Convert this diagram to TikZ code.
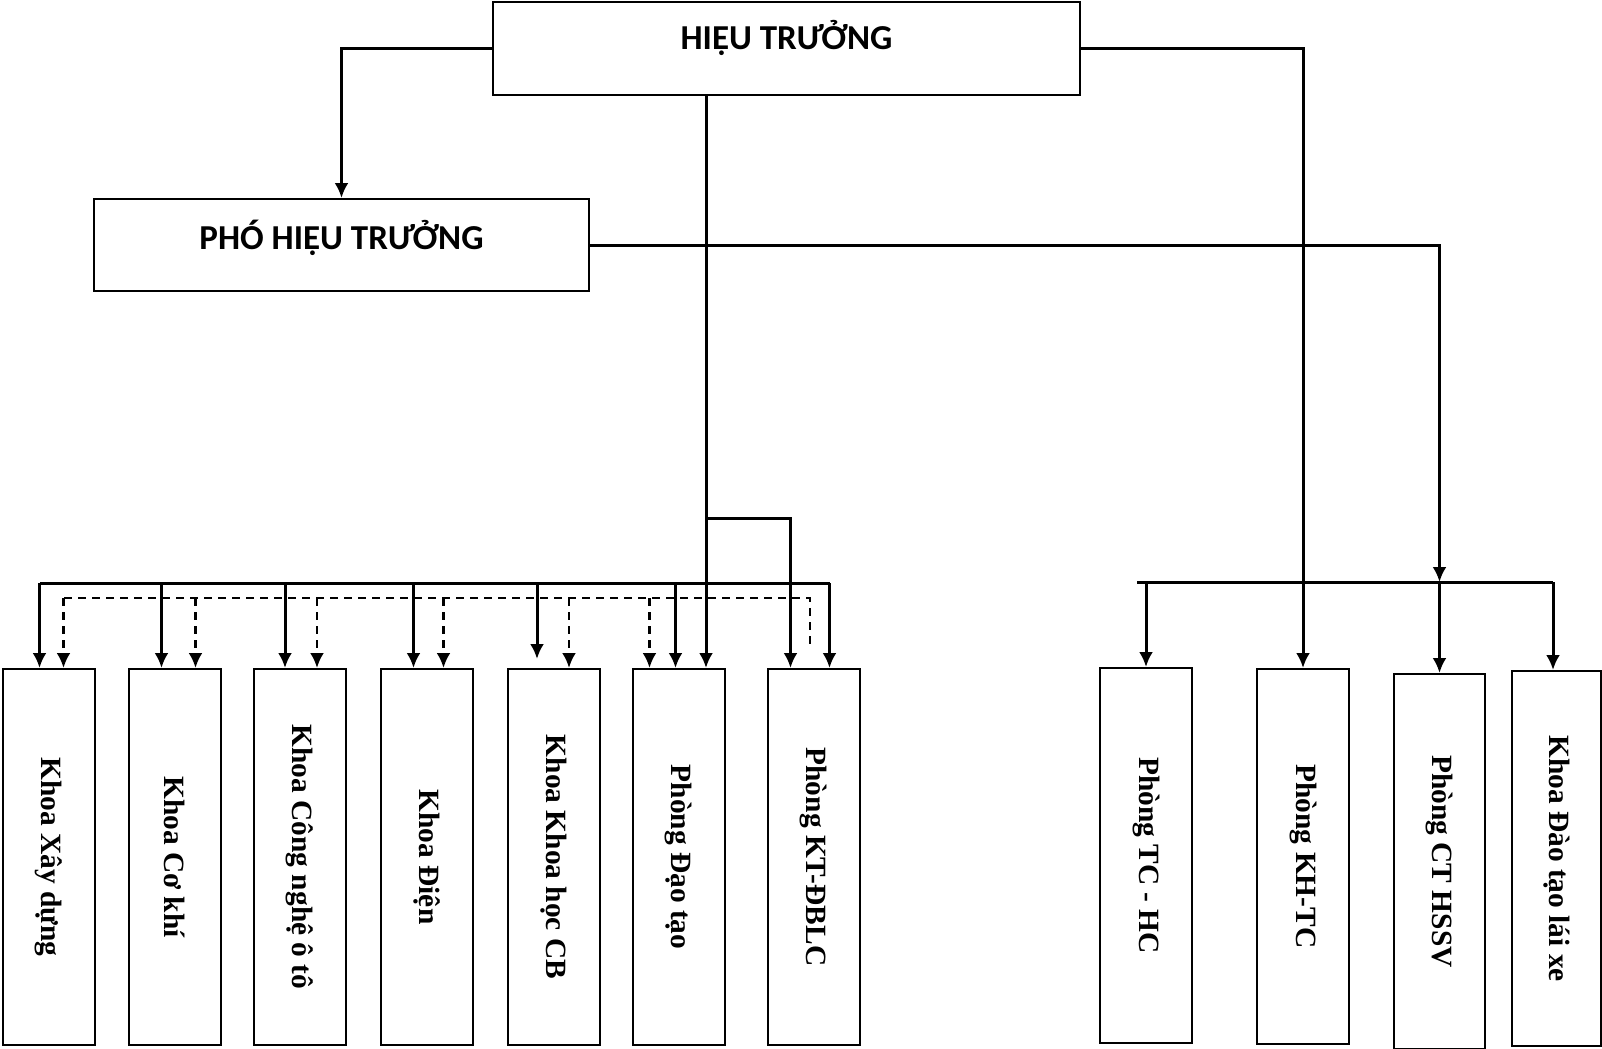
\documentclass[tikz,border=0pt]{standalone}
\usepackage{fontspec}
\setmainfont{Liberation Serif}
\newfontfamily\calibri{Carlito}
\usetikzlibrary{arrows.meta}
\tikzset{>={Latex[length=7.5pt,width=7pt]}}

\begin{document}
\begin{tikzpicture}[x=0.5pt, y=-0.5pt,
		topbox/.style={draw, line width=1pt, inner sep=0pt, font=\calibri\bfseries\fontsize{17.5}{20}\selectfont},
		unitbox/.style={draw, line width=1pt, anchor=north, minimum width=46pt, minimum height=188pt, inner sep=0pt, font=\bfseries\fontsize{14.7}{17}\selectfont},
		link/.style={line width=1.5pt},
		sublink/.style={line width=1.4pt, dash pattern=on 4pt off 3pt}]

		\useasboundingbox (0,0) rectangle (1602,1049);

		% Leadership
		\node [topbox, minimum width=293.5pt, text height=23.6pt, text depth=22.9pt] (ht) at (786.5,48.5) {HIỆU TRƯỞNG};
		\node [topbox, minimum width=247.5pt, text height=25pt, text depth=21pt] (pht) at (341.5,245) {PHÓ HIỆU TRƯỞNG};

		% Faculties and offices
		\node [unitbox] (k1) at (48.5,668) {\rotatebox{-90}{Khoa Xây dựng}};
		\node [unitbox] (k2) at (174.5,668) {\rotatebox{-90}{Khoa Cơ khí}};
		\node [unitbox] (k3) at (300,668) {\rotatebox{-90}{Khoa Công nghệ ô tô}};
		\node [unitbox] (k4) at (426.5,668) {\rotatebox{-90}{Khoa Điện}};
		\node [unitbox] (k5) at (554,668) {\rotatebox{-90}{Khoa Khoa học CB}};
		\node [unitbox] (k6) at (678.5,668) {\rotatebox{-90}{Phòng Đạo tạo}};
		\node [unitbox] (k7) at (813.5,668) {\rotatebox{-90}{Phòng KT-ĐBLC}};

		\node [unitbox, minimum height=187.5pt] (p8) at (1146,667) {\rotatebox{-90}{Phòng TC - HC}};
		\node [unitbox, minimum height=187.5pt] (p9) at (1303,668) {\rotatebox{-90}{Phòng KH-TC}};
		\node [unitbox, minimum height=187.5pt, minimum width=45.5pt] (p10) at (1439.5,673) {\rotatebox{-90}{Phòng CT HSSV}};
		\node [unitbox, minimum height=187.5pt, minimum width=44.5pt] (p11) at (1556.5,670) {\rotatebox{-90}{Khoa Đào tạo lái xe}};

		% Leadership lines
		\draw [link, ->] (ht.west) -| (pht.north);
		\draw [link, ->] (ht.east) -| (p9.north);

		% Main line down
		\coordinate (split) at (706,518);
		\draw [link, ->] (ht.south -| split) -- (k6.north -| split);
		\draw [link, ->] (split) -| ([xshift=12pt]k7.north west);

		% Solid bus
		\coordinate (busL) at (40,583);
		\coordinate (busR) at (830,583);
		\draw [link] (busL) -- (busR);
		\foreach \n/\dx in {k1/19, k2/17, k3/16, k4/17, k6/22, k7/31.5} {
			\path ([xshift=\dx pt]\n.north west) coordinate (tip);
			\draw [link, ->] (tip |- busL) -- (tip);
		}
		\path ([xshift=15pt]k5.north west) coordinate (tip);
		\draw [link, ->, shorten >=4.5pt] (tip |- busL) -- (tip);

		% Dashed bus
		\coordinate (dbL) at (64,598);
		\coordinate (dbR) at (810,598);
		\draw [sublink] (dbL) -- (dbR) -- ++(0,49);
		\foreach \n/\dx in {k1/31, k2/34, k3/32, k4/32, k5/31, k6/9} {
			\path ([xshift=\dx pt]\n.north west) coordinate (tip);
			\draw [sublink, ->] (tip |- dbL) -- (tip);
		}

		% Right bus
		\coordinate (rbL) at (1137,582);
		\coordinate (rbR) at (1553,582);
		\draw [link] (rbL) -- (rbR);
		\draw [link, ->] (pht.east) -| (p10.north |- rbL);
		\draw [link, ->] (p8.north |- rbL) -- (p8.north);
		\draw [link, ->] (p10.north |- rbL) -- (p10.north);
		\draw [link, ->] (rbR) -- (rbR |- p11.north);

	\end{tikzpicture}
\end{document}
